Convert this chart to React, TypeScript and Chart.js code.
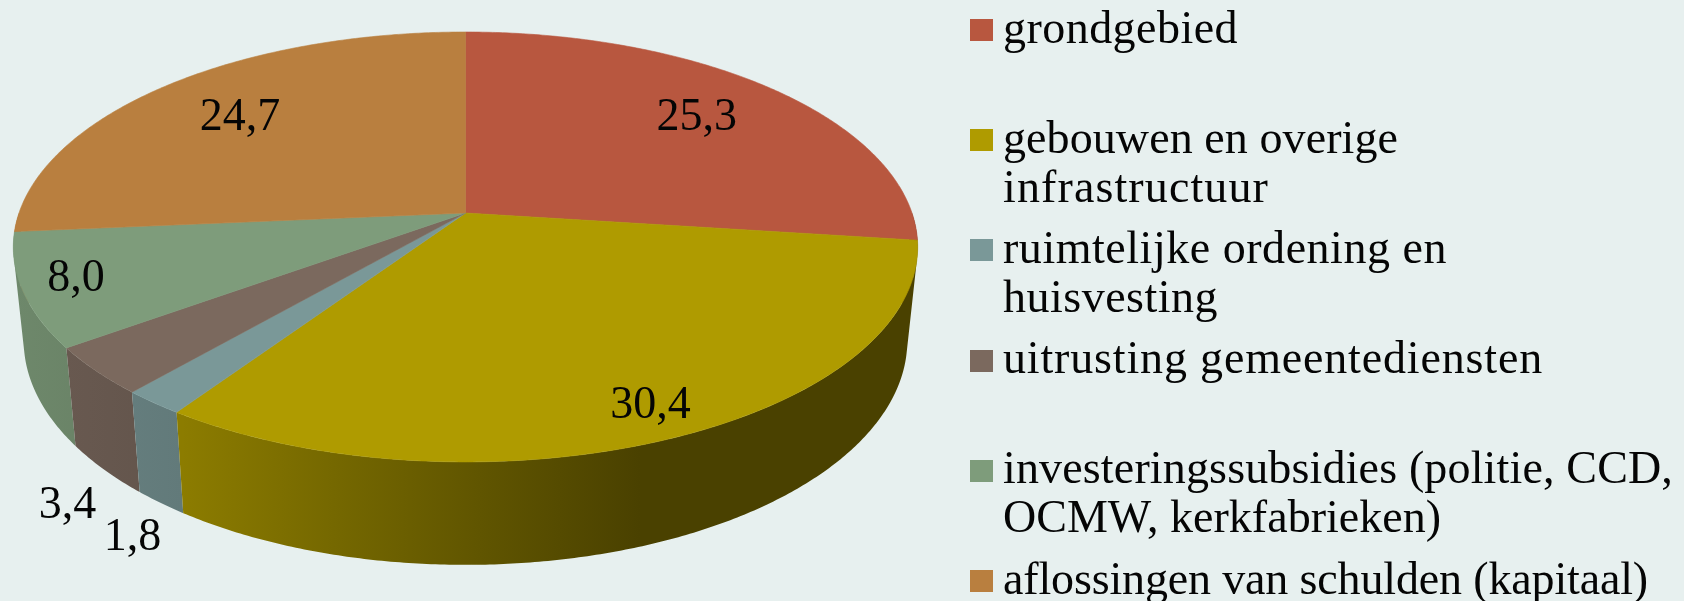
import React, { useEffect, useRef } from "react";
import { Chart, registerables } from "chart.js";

Chart.register(...registerables);

const categories = [
  "grondgebied",
  "gebouwen en overige infrastructuur",
  "ruimtelijke ordening en huisvesting",
  "uitrusting gemeentediensten",
  "investeringssubsidies (politie, CCD, OCMW, kerkfabrieken)",
  "aflossingen van schulden (kapitaal)",
];
const values = [25.3, 30.4, 1.8, 3.4, 8.0, 24.7];
const valueLabels = ["25,3", "30,4", "1,8", "3,4", "8,0", "24,7"];
const colors = ["#B8573F", "#AF9B00", "#7A9898", "#7B695E", "#7E9C7B", "#B97F3F"];
const legendLines = [
  ["grondgebied"],
  ["gebouwen en overige", "infrastructuur"],
  ["ruimtelijke ordening en", "huisvesting"],
  ["uitrusting gemeentediensten"],
  ["investeringssubsidies (politie, CCD,", "OCMW, kerkfabrieken)"],
  ["aflossingen van schulden (kapitaal)"],
];

// Appearance of the tilted pie: a perspective view of the circle
const view = { cx: 465.5, apexY: 213, a: 446.5, b: 209.6, k: 0.158, xShrink: 0.977, depth: 98, depthGrow: 0.043 };
const labelRadius = 0.75;
const labelNudge = [[-2, -2], [31, 29], [-107, 185], [-129, 175], [-62, 6], [3, 0]];
const sideShade = [[14, 0.87], [182, 0.8], [333, 0.67], [480, 0.55], [640, 0.42], [1000, 0.42]];
const legendStyle = {
  font: '46px "Liberation Serif"',
  swatchX: 970, swatchW: 23, swatchH: 22,
  textX: 1003, lineGap: 49,
  swatchTop: [19, 129, 239, 350, 460, 570],
  firstBaseline: [43, 153, 263, 373, 483, 594],
  lineWidths: [[235], [395, 266], [444, 215], [540], [670, 438], [645]],
};

function project(theta: number, r = 1) {
  const u = r * Math.sin(theta);
  const v = r * Math.cos(theta);
  const w = 1 + view.k * v;
  return { x: view.cx + (view.a * u) / w, y: view.apexY - (view.b * v) / w };
}
function lower(p: { x: number; y: number }) {
  return {
    x: view.cx + (p.x - view.cx) * view.xShrink,
    y: p.y + view.depth + (p.y - 347) * view.depthGrow,
  };
}
function shaded(hex: string, s: number) {
  const n = parseInt(hex.slice(1), 16);
  const c = [(n >> 16) & 255, (n >> 8) & 255, n & 255].map((v) => Math.round(v * s));
  return `rgb(${c[0]},${c[1]},${c[2]})`;
}

const pie3d = {
  id: "pie3d",
  beforeDatasetDraw(chart: any) {
    const ctx = chart.ctx as CanvasRenderingContext2D;
    const arcs = chart.getDatasetMeta(0).data as any[];
    const spans = arcs.map((arc, i) => ({
      i,
      t0: arc.startAngle + Math.PI / 2,
      t1: arc.endAngle + Math.PI / 2,
    }));
    const step = Math.PI / 360;
    ctx.save();
    // side wall: one path per slice, painted back to front
    const walls = spans
      .map((s) => {
        const quads: any[][] = [];
        let lowest = -Infinity;
        for (let t = s.t0; t < s.t1 - 1e-6; t += step) {
          const tEnd = Math.min(t + step, s.t1);
          if (Math.cos((t + tEnd) / 2) > 0) continue;
          const a = project(t);
          const b = project(tEnd);
          const q = [a, b, lower(b), lower(a)];
          const area = q.reduce((sum, p, n) => {
            const o = q[(n + 1) % 4];
            return sum + p.x * o.y - o.x * p.y;
          }, 0);
          quads.push(area < 0 ? q.reverse() : q);
          lowest = Math.max(lowest, a.y, b.y);
        }
        return { i: s.i, quads, lowest };
      })
      .filter((w) => w.quads.length)
      .sort((p, q) => p.lowest - q.lowest);
    for (const wall of walls) {
      const [x0, x1] = [sideShade[0][0], sideShade[sideShade.length - 1][0]];
      const grad = ctx.createLinearGradient(x0, 0, x1, 0);
      for (const [x, s] of sideShade) grad.addColorStop((x - x0) / (x1 - x0), shaded(colors[wall.i], s));
      ctx.fillStyle = grad;
      ctx.beginPath();
      for (const q of wall.quads) {
        ctx.moveTo(q[0].x, q[0].y);
        for (let n = 1; n < 4; n++) ctx.lineTo(q[n].x, q[n].y);
        ctx.closePath();
      }
      ctx.fill("nonzero");
    }
    // top face
    for (const s of spans) {
      ctx.fillStyle = colors[s.i];
      ctx.strokeStyle = colors[s.i];
      ctx.lineWidth = 0.6;
      ctx.beginPath();
      ctx.moveTo(view.cx, view.apexY);
      const n = Math.max(4, Math.ceil((s.t1 - s.t0) / step));
      for (let j = 0; j <= n; j++) {
        const p = project(s.t0 + ((s.t1 - s.t0) * j) / n);
        ctx.lineTo(p.x, p.y);
      }
      ctx.closePath();
      ctx.fill();
      ctx.stroke();
    }
    // value labels
    ctx.fillStyle = "#050505";
    ctx.font = legendStyle.font;
    ctx.textAlign = "center";
    ctx.textBaseline = "alphabetic";
    for (const s of spans) {
      const p = project((s.t0 + s.t1) / 2, labelRadius);
      ctx.fillText(valueLabels[s.i], p.x + labelNudge[s.i][0], p.y + labelNudge[s.i][1] + 15);
    }
    ctx.restore();
    return false;
  },
  afterDraw(chart: any) {
    const ctx = chart.ctx as any;
    ctx.save();
    ctx.font = legendStyle.font;
    ctx.textAlign = "left";
    ctx.textBaseline = "alphabetic";
    legendLines.forEach((lines, i) => {
      ctx.fillStyle = colors[i];
      ctx.fillRect(legendStyle.swatchX, legendStyle.swatchTop[i], legendStyle.swatchW, legendStyle.swatchH);
      ctx.fillStyle = "#050505";
      lines.forEach((line, j) => {
        ctx.letterSpacing = "0px";
        const natural = ctx.measureText(line).width;
        ctx.letterSpacing = `${(legendStyle.lineWidths[i][j] - natural) / line.length}px`;
        ctx.fillText(line, legendStyle.textX, legendStyle.firstBaseline[i] + j * legendStyle.lineGap);
      });
    });
    ctx.letterSpacing = "0px";
    ctx.restore();
  },
};

export default function App() {
  const ref = useRef<HTMLCanvasElement>(null);
  useEffect(() => {
    if (!ref.current) return;
    const chart = new Chart(ref.current, {
      type: "pie",
      data: {
        labels: categories,
        datasets: [{ data: values, backgroundColor: colors, borderWidth: 0 }],
      },
      options: {
        animation: false,
        responsive: false,
        events: [],
        plugins: { legend: { display: false }, tooltip: { enabled: false } },
      },
      plugins: [pie3d],
    } as any);
    return () => chart.destroy();
  }, []);
  return (
    <div style={{ position: "fixed", left: 0, top: 0, width: 1684, height: 601, background: "#E7F0EF", overflow: "hidden" }}>
      <canvas ref={ref} width={1684} height={601} style={{ display: "block" }} />
    </div>
  );
}
